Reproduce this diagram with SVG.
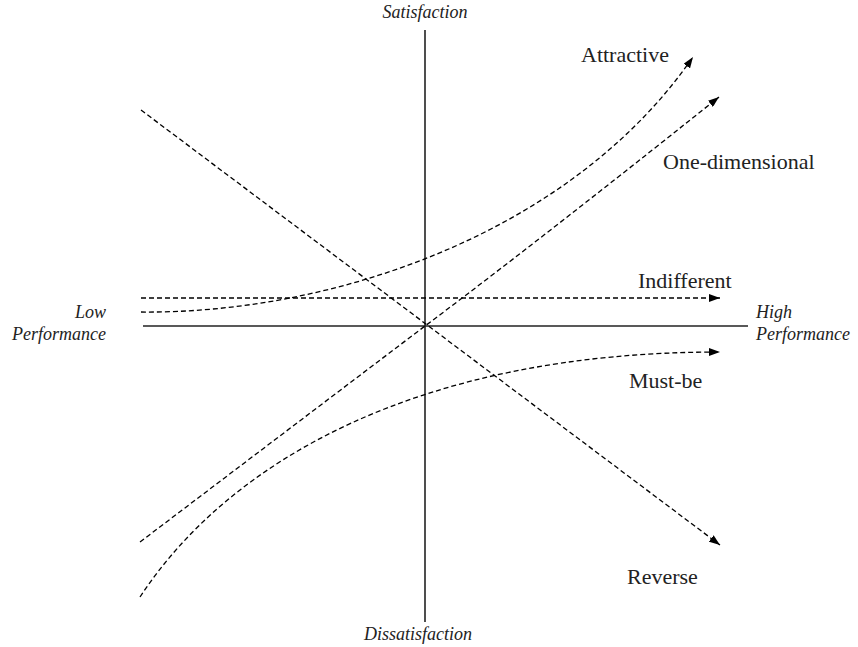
<svg xmlns="http://www.w3.org/2000/svg" width="858" height="647" viewBox="0 0 858 647">
<style>
.axis{stroke:#222;stroke-width:1.6;fill:none}
.curve{stroke:#000;stroke-width:1.3;fill:none;stroke-dasharray:5 3;marker-end:url(#ah)}
.lbl{font-family:"Liberation Serif","Times New Roman",serif;font-size:22px;fill:#222}
.ax{font-family:"Liberation Serif","Times New Roman",serif;font-size:18px;font-style:italic;fill:#222}
</style>
<defs>
<marker id="ah" viewBox="0 0 11 8" refX="11" refY="4" markerWidth="11" markerHeight="8" markerUnits="userSpaceOnUse" orient="auto">
<path d="M0,0 L11,4 L0,8 Z" fill="#000"/>
</marker>
</defs>
<rect width="858" height="647" fill="#fff"/>
<g id="axes">
<line class="axis" x1="425" y1="30" x2="425" y2="622"/>
<line class="axis" x1="143" y1="326" x2="748" y2="326"/>
</g>
<g id="connectors">
<path class="curve" d="M141,312 C330,314 570,235 693,57"/>
<path class="curve" d="M140,542 L425,326 C520,255 640,160 719,97"/>
<path class="curve" d="M141,298 L720,298"/>
<path class="curve" d="M140,597 C230,460 420,352 720,352"/>
<path class="curve" d="M141,110 L720,545"/>
</g>
<g id="satisfaction"><text class="ax" x="425" y="18" text-anchor="middle">Satisfaction</text></g>
<g id="dissatisfaction"><text class="ax" x="418" y="640" text-anchor="middle">Dissatisfaction</text></g>
<g id="low-performance"><text class="ax" x="106" y="318" text-anchor="end">Low</text><text class="ax" x="106" y="340" text-anchor="end">Performance</text></g>
<g id="high-performance"><text class="ax" x="756" y="318">High</text><text class="ax" x="756" y="340">Performance</text></g>
<g id="attractive"><text class="lbl" x="581" y="62">Attractive</text></g>
<g id="one-dimensional"><text class="lbl" x="663" y="169">One-dimensional</text></g>
<g id="indifferent"><text class="lbl" x="638" y="288">Indifferent</text></g>
<g id="must-be"><text class="lbl" x="629" y="388">Must-be</text></g>
<g id="reverse"><text class="lbl" x="627" y="584">Reverse</text></g>
</svg>
